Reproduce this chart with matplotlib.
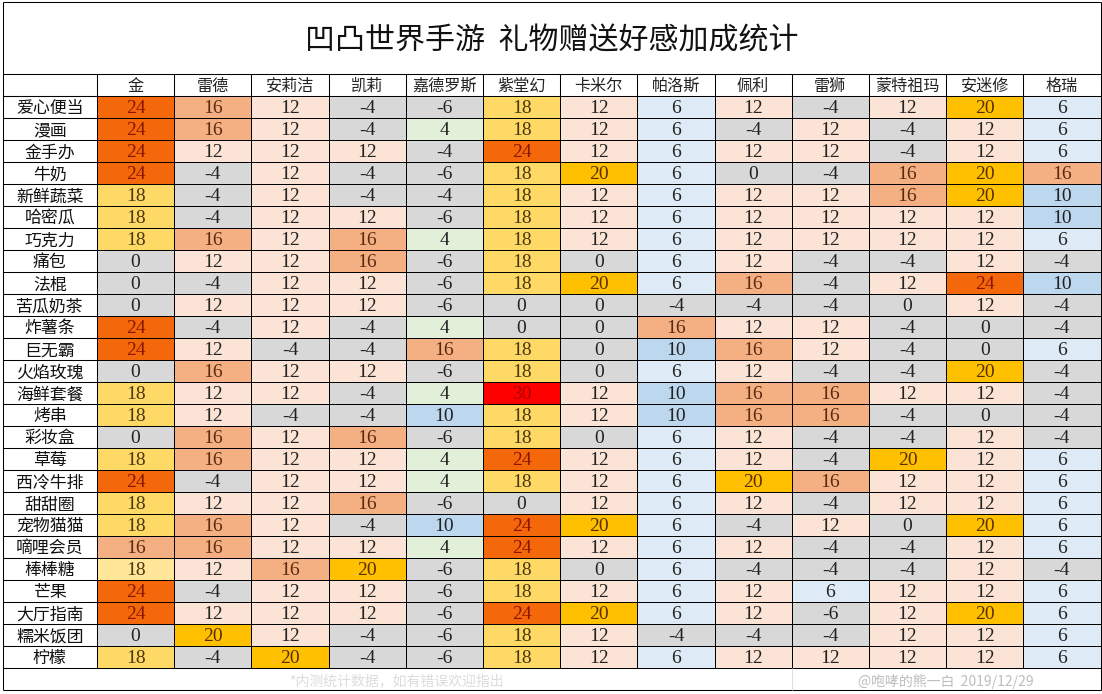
import numpy as np
import matplotlib
matplotlib.use('Agg')
import matplotlib.pyplot as plt
from matplotlib.colors import to_rgb

plt.rcParams['font.family'] = ['Noto Sans CJK SC', 'DejaVu Sans']

title = '凹凸世界手游  礼物赠送好感加成统计'
note = '*内测统计数据，如有错误欢迎指出'
credit = '@咆哮的熊一白  2019/12/29'

characters = ['金', '雷德', '安莉洁', '凯莉', '嘉德罗斯', '紫堂幻', '卡米尔',
              '帕洛斯', '佩利', '雷狮', '蒙特祖玛', '安迷修', '格瑞']
gifts = ['爱心便当', '漫画', '金手办', '牛奶', '新鲜蔬菜', '哈密瓜', '巧克力', '痛包', '法棍',
         '苦瓜奶茶', '炸薯条', '巨无霸', '火焰玫瑰', '海鲜套餐', '烤串', '彩妆盒', '草莓',
         '西冷牛排', '甜甜圈', '宠物猫猫', '嘀哩会员', '棒棒糖', '芒果', '大厅指南', '糯米饭团', '柠檬']
values = [
    [24, 16, 12, -4, -6, 18, 12, 6, 12, -4, 12, 20, 6],
    [24, 16, 12, -4, 4, 18, 12, 6, -4, 12, -4, 12, 6],
    [24, 12, 12, 12, -4, 24, 12, 6, 12, 12, -4, 12, 6],
    [24, -4, 12, -4, -6, 18, 20, 6, 0, -4, 16, 20, 16],
    [18, -4, 12, -4, -4, 18, 12, 6, 12, 12, 16, 20, 10],
    [18, -4, 12, 12, -6, 18, 12, 6, 12, 12, 12, 12, 10],
    [18, 16, 12, 16, 4, 18, 12, 6, 12, 12, 12, 12, 6],
    [0, 12, 12, 16, -6, 18, 0, 6, 12, -4, -4, 12, -4],
    [0, -4, 12, 12, -6, 18, 20, 6, 16, -4, 12, 24, 10],
    [0, 12, 12, 12, -6, 0, 0, -4, -4, -4, 0, 12, -4],
    [24, -4, 12, -4, 4, 0, 0, 16, 12, 12, -4, 0, -4],
    [24, 12, -4, -4, 16, 18, 0, 10, 16, 12, -4, 0, 6],
    [0, 16, 12, 12, -6, 18, 0, 6, 12, -4, -4, 20, -4],
    [18, 12, 12, -4, 4, 30, 12, 10, 16, 16, 12, 12, -4],
    [18, 12, -4, -4, 10, 18, 12, 10, 16, 16, -4, 0, -4],
    [0, 16, 12, 16, -6, 18, 0, 6, 12, -4, -4, 12, -4],
    [18, 16, 12, 12, 4, 24, 12, 6, 12, -4, 20, 12, 6],
    [24, -4, 12, 12, 4, 18, 12, 6, 20, 16, 12, 12, 6],
    [18, 12, 12, 16, -6, 0, 12, 6, 12, -4, 12, 12, 6],
    [18, 16, 12, -4, 10, 24, 20, 6, -4, 12, 0, 20, 6],
    [16, 16, 12, 12, 4, 24, 12, 6, 12, -4, -4, 12, 6],
    [18, 12, 16, 20, -6, 18, 0, 6, -4, -4, -4, 12, -4],
    [24, -4, 12, 12, -6, 18, 12, 6, 12, 6, 12, 12, 6],
    [24, 12, 12, 12, -6, 24, 20, 6, 12, -6, 12, 20, 6],
    [0, 20, 12, -4, -6, 18, 12, -4, -4, -4, 12, 12, 6],
    [18, -4, 20, -4, -6, 18, 12, 6, 12, 12, 12, 12, 6],
]

# 每个数值对应的单元格颜色
fill_colors = {-6: '#d8d8d8', -4: '#d8d8d8', 0: '#d8d8d8', 4: '#e2efd9', 6: '#deebf7',
               10: '#bdd7ee', 12: '#fbe4d5', 16: '#f4b083', 18: '#ffd965', 20: '#ffc000',
               24: '#f4680b', 30: '#fe0000'}
text_colors = {16: '#5a2a10', 18: '#4a3810', 20: '#5a3000', 24: '#8a1500', 30: '#b00000'}

W, H = 1102, 694
fig = plt.figure(figsize=(W / 100, H / 100), dpi=100)

# 外框、表头、标题用像素坐标
frame = fig.add_axes([0, 0, 1, 1])
frame.set_xlim(0, W)
frame.set_ylim(H, 0)
frame.axis('off')

left, right, top, bottom = 97.0, 1100.5, 96.3, 668.3
frame_left, frame_top, frame_bottom, head_top = 2.5, 2.3, 690.3, 74.3
col_w = (right - left) / len(characters)
line_w = 0.75

ax = fig.add_axes([left / W, 1 - bottom / H, (right - left) / W, (bottom - top) / H])
data = np.array(values)
rgb = np.array([[to_rgb(fill_colors[v]) for v in row] for row in values])
rgb[21, 0] = to_rgb('#ffe699')  # 棒棒糖这一格颜色更浅
ax.pcolormesh(np.arange(len(characters) + 1), np.arange(len(gifts) + 1), rgb,
              edgecolors='black', linewidth=0.5)
ax.set_xlim(0, len(characters))
ax.set_ylim(len(gifts), 0)
ax.axis('off')

for i in range(data.shape[0]):
    for j in range(data.shape[1]):
        v = data[i, j]
        ax.text(j + 0.5, i + 0.56, str(v), ha='center', va='center', fontsize=14,
                family='Liberation Serif', color=text_colors.get(v, '#222222'))

# 表头和行名
for j, name in enumerate(characters):
    frame.text(left + (j + 0.5) * col_w, 86, name, ha='center', va='center',
               fontsize=11.6, color='#222222', fontweight='light')
for i, name in enumerate(gifts):
    frame.text((frame_left + left) / 2, top + (i + 0.5) * 22 + 1, name, ha='center', va='center',
               fontsize=12.2, color='#111111', fontweight='light')

frame.text(551.5, 41, title, ha='center', va='center', fontsize=21.6, color='#111111')
frame.text(396, 681, note, ha='center', va='center', fontsize=10, color='#dcdcdc')
frame.text(946, 681, credit, ha='center', va='center', fontsize=10, color='#bdbdbd')

# 框线
frame.hlines([frame_top, head_top, top, bottom, frame_bottom], frame_left, right, color='black', lw=line_w)
frame.vlines([frame_left, right], frame_top, frame_bottom, color='black', lw=line_w)
frame.vlines(left + np.arange(len(characters)) * col_w, head_top, top, color='black', lw=line_w)
frame.vlines(left, top, bottom, color='black', lw=line_w)
frame.hlines(top + np.arange(len(gifts)) * 22, frame_left, left, color='black', lw=line_w)
frame.vlines(791.5, bottom, frame_bottom, color='#e0e0e0', lw=0.8)

fig.savefig('out.png', dpi=100, facecolor='white')
